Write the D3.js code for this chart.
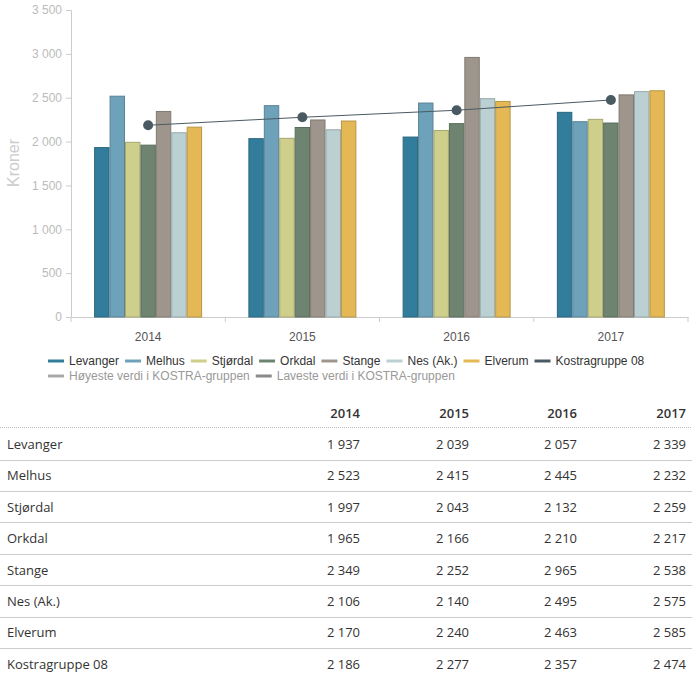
<!DOCTYPE html>
<html><head><meta charset="utf-8">
<script src="https://cdn.jsdelivr.net/npm/d3@7"></script>
<style>body{margin:0;background:#fff;} svg{display:block;}</style>
</head><body>
<svg id="c" width="692" height="679"></svg>
<script>
const years = ["2014","2015","2016","2017"];
const barSeries = ["Levanger","Melhus","Stjørdal","Orkdal","Stange","Nes (Ak.)","Elverum"];
const barColors = ["#337d9c","#6ea2ba","#cfcf8c","#6e8470","#9e968c","#bbd0d2","#e4b955"];
const levanger = [1937,2039,2057,2339];
const melhus = [2523,2415,2445,2232];
const stjordal = [1997,2043,2132,2259];
const orkdal = [1965,2166,2210,2217];
const stange = [2349,2252,2965,2538];
const nes = [2106,2140,2495,2575];
const elverum = [2170,2240,2463,2585];
const kostra = [2186,2277,2357,2474];
const kostraName = "Kostragruppe 08";
const kostraColor = "#4a5a62";
const yTicks = [0,500,1000,1500,2000,2500,3000,3500];
const legendRow2 = ["Høyeste verdi i KOSTRA-gruppen","Laveste verdi i KOSTRA-gruppen"];
const legendRow2Colors = ["#a8a8a8","#8a8a8a"];

(function(){
const barValues = [levanger,melhus,stjordal,orkdal,stange,nes,elverum];
const fmt = v => d3.format(",")(v).replace(/,/g, " ");

const svg = d3.select("#c");
const pLeft = 71, pRight = 688, pTop = 10, pBottom = 317;

const y = d3.scaleLinear().domain([0,3500]).range([pBottom, pTop]);
const x0 = d3.scaleBand().domain(years).range([pLeft, pRight]).padding(0);
const x1 = d3.scaleBand().domain(barSeries)
  .range([x0.bandwidth()*0.15, x0.bandwidth()*0.85]).padding(0);

// y axis
const yAxis = svg.append("g").attr("transform", `translate(${pLeft},0)`)
  .call(d3.axisLeft(y).tickValues(yTicks).tickSize(5).tickPadding(4).tickFormat(fmt));
yAxis.select(".domain").attr("stroke", "#ccc");
yAxis.selectAll(".tick line").attr("stroke", "#ccc");
yAxis.selectAll(".tick text").attr("fill", "#bbb").attr("font-family", "Liberation Sans, Arial, sans-serif").attr("font-size", 12);

svg.append("text").attr("transform", "translate(19,163) rotate(-90)")
  .attr("text-anchor", "middle").attr("font-family", "Liberation Sans, Arial, sans-serif")
  .attr("font-size", 16).attr("fill", "#ccc").text("Kroner");

// x axis
const xAxis = svg.append("g").attr("transform", `translate(0,${pBottom})`)
  .call(d3.axisBottom(x0).tickSize(0).tickPadding(15));
xAxis.select(".domain").attr("stroke", "#ccc");
xAxis.selectAll(".tick text").attr("fill", "#555").attr("font-family", "Liberation Sans, Arial, sans-serif").attr("font-size", 12);
const bounds = years.map(d => x0(d)).concat([x0(years[years.length-1]) + x0.bandwidth()]);
xAxis.selectAll("line.sep").data(bounds).join("line").attr("class","sep")
  .attr("x1", d => d).attr("x2", d => d).attr("y1", 0).attr("y2", 5).attr("stroke", "#ccc");

// bars
const groups = svg.append("g").selectAll("g").data(years).join("g")
  .attr("transform", d => `translate(${x0(d)},0)`);
groups.selectAll("rect").data((d, yi) => barSeries.map((s, si) => ({s, si, v: barValues[si][yi]})))
  .join("rect")
  .attr("x", d => x1(d.s) + 0.5).attr("width", x1.bandwidth() - 1)
  .attr("y", d => y(d.v) + 0.5).attr("height", d => y(0) - y(d.v) - 0.5)
  .attr("fill", d => barColors[d.si])
  .attr("stroke", d => d3.color(barColors[d.si]).darker(0.6))
  .attr("stroke-width", 1);

// kostra line
const cx = d => x0(d) + x0.bandwidth()/2;
svg.append("path").datum(years)
  .attr("d", d3.line().x(d => cx(d)).y((d,i) => y(kostra[i])))
  .attr("fill", "none").attr("stroke", kostraColor).attr("stroke-width", 1);
svg.append("g").selectAll("circle").data(years).join("circle")
  .attr("cx", d => cx(d)).attr("cy", (d,i) => y(kostra[i])).attr("r", 5)
  .attr("fill", kostraColor);

// legend
const lg = svg.append("g").attr("font-family", "Liberation Sans, Arial, sans-serif").attr("font-size", 12);
function legendRow(names, colors, yPos, textColor) {
  let xPos = 48;
  names.forEach((n, i) => {
    lg.append("line").attr("x1", xPos).attr("x2", xPos + 16).attr("y1", yPos).attr("y2", yPos)
      .attr("stroke", colors[i]).attr("stroke-width", 3);
    const t = lg.append("text").attr("x", xPos + 21).attr("y", yPos + 4).attr("fill", textColor).text(n);
    xPos += 21 + t.node().getComputedTextLength() + 6;
  });
}
legendRow(barSeries.concat([kostraName]), barColors.concat([kostraColor]), 361, "#333");
legendRow(legendRow2, legendRow2Colors, 376, "#999");

// table
const tb = svg.append("g").attr("font-family", "Open Sans, sans-serif").attr("font-size", 13).attr("fill", "#333");
const colRight = [360, 469, 577, 686];
const rowNames = barSeries.concat([kostraName]);
const rowVals = barValues.concat([kostra]);
const rowY = d3.scaleLinear().domain([0,1]).range([444, 475.4]);
years.forEach((yr, j) => {
  tb.append("text").attr("x", colRight[j]).attr("y", 418).attr("text-anchor", "end")
    .attr("font-weight", 600).text(yr);
});
tb.append("line").attr("x1", 0).attr("x2", 692).attr("y1", 427.5).attr("y2", 427.5)
  .attr("stroke", "#bbb").attr("stroke-dasharray", "1,1");
rowNames.forEach((n, i) => {
  const yy = rowY(i);
  tb.append("text").attr("x", 7).attr("y", yy + 5).text(n);
  rowVals[i].forEach((v, j) => {
    tb.append("text").attr("x", colRight[j]).attr("y", yy + 5).attr("text-anchor", "end").text(fmt(v));
  });
  tb.append("line").attr("x1", 0).attr("x2", 692).attr("y1", Math.round(yy + 15.5) + 0.5).attr("y2", Math.round(yy + 15.5) + 0.5)
    .attr("stroke", "#ccc");
});
})();
</script>
</body></html>
